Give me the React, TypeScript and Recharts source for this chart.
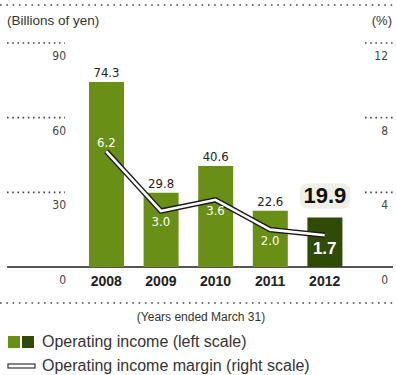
import { ComposedChart, Bar, Line, XAxis, YAxis, Cell, LabelList, Customized } from 'recharts'

const years = ['2008', '2009', '2010', '2011', '2012']
const operatingIncome = [74.3, 29.8, 40.6, 22.6, 19.9]
const operatingMargin = [6.2, 3.0, 3.6, 2.0, 1.7]
const leftTicks = [0, 30, 60, 90]
const rightTicks = [0, 4, 8, 12]

const W = 396
const H = 375
const PLOT_TOP = 43
const PLOT_H = 224
const BASE_Y = PLOT_TOP + PLOT_H

const FONT = '"Liberation Sans", Arial, sans-serif'
const NARROW = '"Liberation Sans Narrow", "DejaVu Sans Condensed", sans-serif'
const GREEN = '#6a8f16'
const DARK_GREEN = '#2f4b05'
const INK = '#222'
const DOTS = '#444'

const data = years.map((year, i) => ({
  year,
  income: operatingIncome[i],
  margin: operatingMargin[i],
}))

// dotted segments + label underneath, left side
function LeftTick(props: any) {
  const { y, payload } = props
  return (
    <g>
      {payload.value !== 0 && (
        <line x1={7} x2={65} y1={y} y2={y} stroke={DOTS} strokeWidth={1.6} strokeDasharray="1.6 3.6" />
      )}
      <text x={66} y={y + 17} textAnchor="end" fontSize={12} fontFamily={NARROW} fill="#444">
        {payload.value}
      </text>
    </g>
  )
}

function RightTick(props: any) {
  const { y, payload } = props
  return (
    <g>
      {payload.value !== 0 && (
        <line x1={365} x2={396} y1={y} y2={y} stroke={DOTS} strokeWidth={1.6} strokeDasharray="1.6 3.6" />
      )}
      <text x={388} y={y + 17} textAnchor="end" fontSize={12} fontFamily={NARROW} fill="#444">
        {payload.value}
      </text>
    </g>
  )
}

function YearTick(props: any) {
  const { x, payload } = props
  return (
    <text x={x} y={BASE_Y + 19} textAnchor="middle" fontSize={14} fontWeight="bold" fontFamily={FONT} fill={INK}>
      {payload.value}
    </text>
  )
}

function IncomeLabel(props: any) {
  const { x, y, width, value, index } = props
  const cx = x + width / 2
  if (index === years.length - 1) {
    return (
      <g>
        <rect x={cx - 25} y={y - 34} width={50} height={25} rx={7} fill="#eef0e5" />
        <text x={cx} y={y - 14} textAnchor="middle" fontSize={22} fontWeight="bold" fontFamily={FONT} fill="#111">
          {value.toFixed(1)}
        </text>
      </g>
    )
  }
  return (
    <text x={cx} y={y - 5} textAnchor="middle" fontSize={13} fontFamily={NARROW} fill={INK}>
      {value.toFixed(1)}
    </text>
  )
}

function MarginLabel(props: any) {
  const { x, y, value, index } = props
  if (index === 0) {
    return (
      <text x={x} y={y - 4} textAnchor="middle" fontSize={13} fontFamily={NARROW} fill="#fff">
        {value.toFixed(1)}
      </text>
    )
  }
  if (index === years.length - 1) {
    return (
      <text x={x} y={y + 19} textAnchor="middle" fontSize={17} fontWeight="bold" fontFamily={FONT} fill="#fff">
        {value.toFixed(1)}
      </text>
    )
  }
  return (
    <text x={x} y={y + 15} textAnchor="middle" fontSize={13} fontFamily={NARROW} fill="#fff">
      {value.toFixed(1)}
    </text>
  )
}

function Frame() {
  return (
    <g fontFamily={FONT}>
      <line x1={0} x2={W} y1={5} y2={5} stroke={DOTS} strokeWidth={1.6} strokeDasharray="1.6 4.7" />
      <line x1={0} x2={W} y1={303} y2={303} stroke={DOTS} strokeWidth={1.6} strokeDasharray="1.6 4.7" />
      <line x1={7} x2={393} y1={BASE_Y} y2={BASE_Y} stroke="#555" strokeWidth={2} />
      <text x={7} y={25} fontSize={13.5} fill="#333">(Billions of yen)</text>
      <text x={392} y={25} fontSize={13} textAnchor="end" fill="#333">(%)</text>
      <text x={201} y={321} fontSize={12} textAnchor="middle" fill="#333">(Years ended March 31)</text>
      <rect x={8} y={336} width={12} height={12} fill={GREEN} />
      <rect x={22} y={336} width={12} height={12} fill={DARK_GREEN} />
      <text x={42} y={347} fontSize={16} fill="#333">Operating income (left scale)</text>
      <rect x={8} y={364} width={27} height={4} fill="#fff" stroke="#333" strokeWidth={1.2} />
      <text x={42} y={371} fontSize={16} fill="#333">Operating income margin (right scale)</text>
    </g>
  )
}

export default function App() {
  return (
    <div style={{ position: 'absolute', left: 0, top: 0, width: W, height: H, background: '#fff' }}>
      <ComposedChart width={W} height={H} data={data} margin={{ top: PLOT_TOP, right: 0, bottom: 0, left: 0 }}>
        <XAxis dataKey="year" height={H - BASE_Y} axisLine={false} tickLine={false} tick={<YearTick />} interval={0} />
        <YAxis yAxisId="left" width={79} domain={[0, 90]} ticks={leftTicks} axisLine={false} tickLine={false} tick={<LeftTick />} />
        <YAxis yAxisId="right" orientation="right" width={44} domain={[0, 12]} ticks={rightTicks} axisLine={false} tickLine={false} tick={<RightTick />} />
        <Bar yAxisId="left" dataKey="income" barSize={35} isAnimationActive={false}>
          {data.map((d, i) => (
            <Cell key={d.year} fill={i === data.length - 1 ? DARK_GREEN : GREEN} />
          ))}
          <LabelList dataKey="income" content={<IncomeLabel />} />
        </Bar>
        <Customized component={Frame} />
        <Line yAxisId="right" dataKey="margin" stroke="#1a1a1a" strokeWidth={5.5} dot={false} isAnimationActive={false} />
        <Line yAxisId="right" dataKey="margin" stroke="#fff" strokeWidth={2.6} dot={false} isAnimationActive={false}>
          <LabelList dataKey="margin" content={<MarginLabel />} />
        </Line>
      </ComposedChart>
    </div>
  )
}
